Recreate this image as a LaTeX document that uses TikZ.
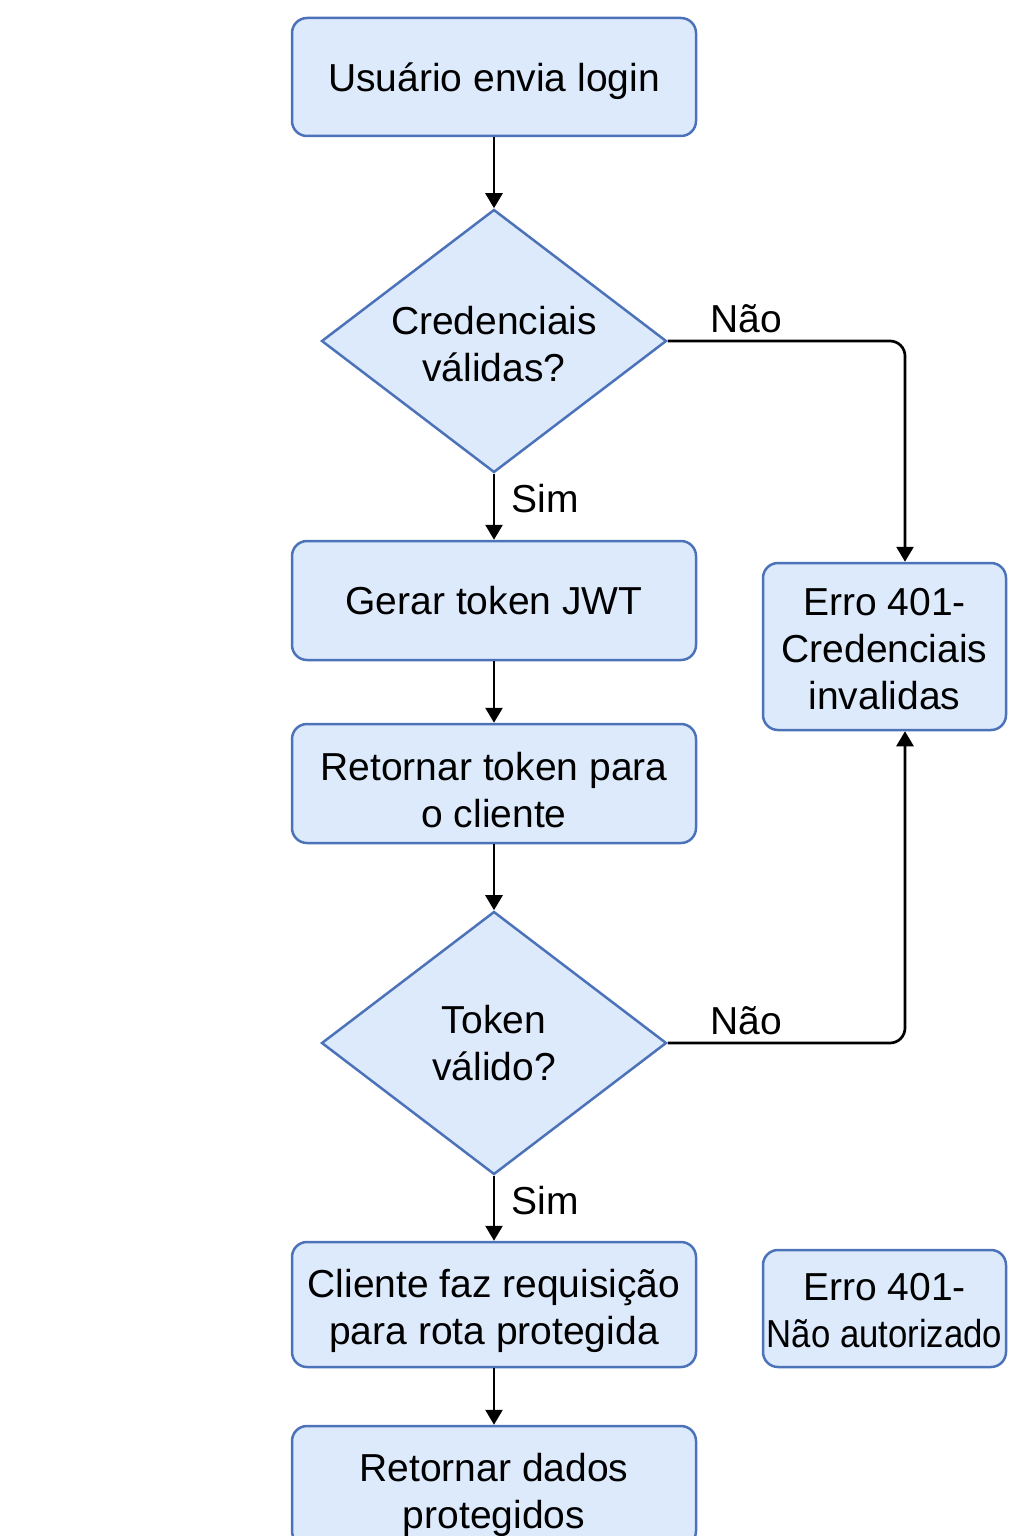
\documentclass[tikz,border=0pt]{standalone}
\usepackage{fontspec}
\setmainfont{Liberation Sans}
\usetikzlibrary{shapes.geometric,arrows.meta}
\definecolor{boxfill}{HTML}{DDEAFB}
\definecolor{boxline}{HTML}{4C72BA}
\newcommand\topstrut[1]{\rule{0pt}{#1}}
\begin{document}
\begin{tikzpicture}[x=0.5pt,y=-0.5pt,
  every node/.style={font=\fontsize{19.5pt}{23.5pt}\selectfont},
  procbox/.style={draw=boxline, fill=boxfill, line width=1.25pt, rounded corners=7.5pt, align=center, inner sep=0pt},
  decision/.style={diamond, draw=boxline, fill=boxfill, line width=1.25pt, aspect=1.31, inner sep=0pt, align=center, minimum width=172.5pt, minimum height=131.5pt},
  arr/.style={line width=1.35pt, -{Triangle[length=7.5pt,width=8.5pt]}, black},
  lbl/.style={inner sep=0pt}]
\clip (0,0) rectangle (1024,1536);
\fill[white] (0,0) rectangle (1024,1536);

\node[procbox, minimum width=202pt, minimum height=59pt, text depth=0pt] (b1) at (494,77) {Usuário envia login};
\node[decision] (d1) at (494,341) {\topstrut{17pt}Credenciais\\válidas?};
\node[procbox, minimum width=202pt, minimum height=59.5pt] (b2) at (494,600.5) {Gerar token JWT};
\node[procbox, minimum width=121.5pt, minimum height=83.5pt] (e1) at (884.5,646.5) {\topstrut{16.5pt}Erro 401-\\Credenciais\\invalidas};
\node[procbox, minimum width=202pt, minimum height=59.5pt] (b3) at (494,783.5) {\topstrut{21pt}Retornar token para\\o cliente};
\node[decision] (d2) at (494,1043) {Token\\válido?};
\node[procbox, minimum width=202pt, minimum height=62.5pt] (b4) at (494,1304.5) {\topstrut{21pt}Cliente faz requisição\\para rota protegida};
\node[procbox, minimum width=121.5pt, minimum height=58.5pt] (e2) at (884.5,1308.5) {\topstrut{16pt}Erro 401-\\\scalebox{0.89}[1]{Não autorizado}};
\node[procbox, minimum width=202pt, minimum height=60pt] (b5) at (494,1486) {\topstrut{23pt}Retornar dados\\protegidos};

\draw[arr] (b1) -- (d1);
\draw[arr] (d1) -- node[lbl, pos=0.38, right=8pt] {Sim} (b2);
\draw[arr] (b2) -- (b3);
\draw[arr] (b3) -- (d2);
\draw[arr] (d2) -- node[lbl, pos=0.38, right=8pt] {Sim} (b4);
\draw[arr] (b4) -- (b5);
\draw[arr, rounded corners=7.5pt] (d1.east) -| node[lbl, pos=0.165, above=3.5pt] {Não} ([xshift=10.25pt]e1.north);
\draw[arr, rounded corners=7.5pt] (d2.east) -| node[lbl, pos=0.165, above=3.5pt] {Não} ([xshift=10.25pt]e1.south);
\end{tikzpicture}
\end{document}
